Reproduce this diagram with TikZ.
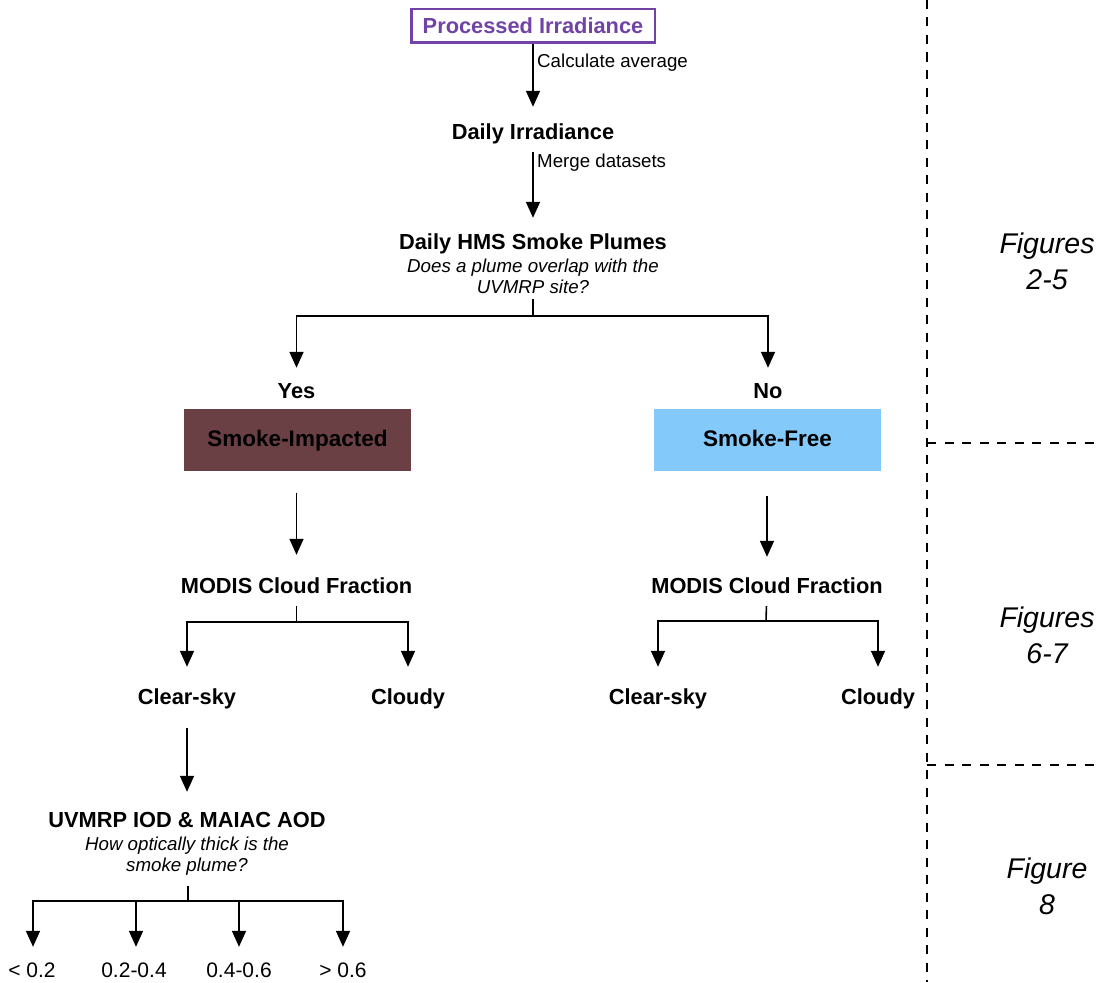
\documentclass[tikz,border=0pt]{standalone}
\usepackage{fontspec}
\setmainfont{Liberation Sans}
\usetikzlibrary{arrows.meta}
\definecolor{purp}{HTML}{7143A6}
\definecolor{smoke}{HTML}{6B4045}
\definecolor{sfblue}{HTML}{83C9FA}
\tikzset{
  bt/.style={font=\fontsize{21.8}{24}\selectfont\bfseries, inner sep=0pt, text height=16pt, text depth=4.5pt, anchor=base},
  rt/.style={font=\fontsize{18.7}{21}\selectfont, inner sep=0pt, text height=14pt, text depth=4pt, anchor=base},
  nt/.style={font=\fontsize{21}{24}\selectfont, inner sep=0pt, text height=15pt, text depth=4pt, anchor=base},
  qt/.style={font=\fontsize{18.7}{21}\selectfont\itshape, inner sep=0pt, align=center, anchor=north},
  ft/.style={font=\fontsize{28.5}{35.5}\selectfont\itshape, inner sep=0pt, align=center, anchor=north},
  catbox/.style={minimum width=227pt, minimum height=62pt, inner sep=0pt, text height=16pt, text depth=2pt,
                 font=\fontsize{22.5}{24}\selectfont\bfseries},
  arr/.style={-{Triangle[width=14pt,length=16pt]}, line width=1.6pt},
  ln/.style={line width=1.6pt},
  dsh/.style={line width=1.4pt, dash pattern=on 9pt off 8.5pt},
}
\begin{document}
\begin{tikzpicture}[x=1pt,y=-1pt]
\useasboundingbox (0,0) rectangle (1099,982);

% top chain
\node[draw=purp, line width=2.5pt, minimum width=243.5pt, minimum height=33.5pt, inner sep=0pt,
      font=\fontsize{21.8}{24}\selectfont\bfseries, text=purp] (proc) at (533,26) {Processed Irradiance};
\node[bt] (daily) at (533,139.7) {Daily Irradiance};
\node[rt, anchor=base west] (calc) at (537,67.7) {Calculate average};
\draw[arr, shorten >=16.7pt] (proc) -- (daily);

\node[bt] (hms) at (533,249.7) {Daily HMS Smoke Plumes};
\node[rt, anchor=base west] (merge) at (537,167.7) {Merge datasets};
\draw[arr, shorten <=8pt, shorten >=15.7pt] (daily) -- (hms);
\node[qt] (hmsq) at (533,258.3) {Does a plume overlap with the\\UVMRP site?};

% yes / no split
\coordinate (hj) at (533,316);
\node[bt] (yes) at (296.5,398.7) {Yes};
\node[bt] (no) at (768,398.7) {No};
\draw[ln, shorten <=5.7pt] (hmsq) -- (hj);
\draw[arr, shorten >=14.7pt] (hj) -| (yes);
\draw[arr, shorten >=14.7pt] (hj) -| (no);

\node[catbox, fill=smoke] (si) at (297.5,439.5) {Smoke-Impacted};
\node[catbox, fill=sfblue] (sf) at (767.5,439.5) {Smoke-Free};

% cloud fraction
\node[bt] (modisL) at (296.5,593.7) {MODIS Cloud Fraction};
\node[bt] (modisR) at (767,593.7) {MODIS Cloud Fraction};
\draw[arr, shorten <=22pt, shorten >=22.7pt] (si.south -| modisL) -- (modisL);
\draw[arr, shorten <=25pt, shorten >=20.7pt] (sf.south -| modisR) -- (modisR);

\coordinate (jl) at (296.5,622);
\coordinate (jr) at (766,621);
\node[bt] (clearL) at (187,704.7) {Clear-sky};
\node[bt] (cloudyL) at (408,704.7) {Cloudy};
\node[bt] (clearR) at (658,704.7) {Clear-sky};
\node[bt] (cloudyR) at (878,704.7) {Cloudy};
\draw[ln, shorten <=7.8pt] (modisL) -- (jl);
\draw[ln, shorten <=7.8pt] (modisR) -- (jr);
\draw[arr, shorten >=21.7pt] (jl) -| (clearL);
\draw[arr, shorten >=21.7pt] (jl) -| (cloudyL);
\draw[arr, shorten >=21.7pt] (jr) -| (clearR);
\draw[arr, shorten >=21.7pt] (jr) -| (cloudyR);

% optical depth
\node[bt] (uv) at (187,827.7) {UVMRP IOD \& MAIAC AOD};
\draw[arr, shorten <=18.8pt, shorten >=19.7pt] (clearL) -- (uv);
\node[qt] (uvq) at (187,836.3) {How optically thick is the\\smoke plume?};
\coordinate (ju) at (188,901);
\draw[ln, shorten <=10.4pt] (uvq.south -| ju) -- (ju);
\node[nt] (b1) at (32,977.5) {< 0.2};
\node[nt] (b2) at (134,977.5) {0.2-0.4};
\node[nt] (b3) at (239,977.5) {0.4-0.6};
\node[nt] (b4) at (343,977.5) {> 0.6};
\draw[arr, shorten >=15.5pt] (ju) -| (b1.north -| 33,0);
\draw[arr, shorten >=15.5pt] (ju) -| (b2.north -| 136,0);
\draw[arr, shorten >=15.5pt] (ju) -| (b3);
\draw[arr, shorten >=15.5pt] (ju) -| (b4);

% figure sections
\draw[dsh] (927,0) -- (927,982);
\draw[dsh] (927,443) -- (1099,443);
\draw[dsh] (927,765) -- (1099,765);
\node[ft] (f1) at (1047,232.8) {Figures\\2-5};
\node[ft] (f2) at (1047,606.8) {Figures\\6-7};
\node[ft] (f3) at (1047,857.8) {Figure\\8};
\end{tikzpicture}
\end{document}
